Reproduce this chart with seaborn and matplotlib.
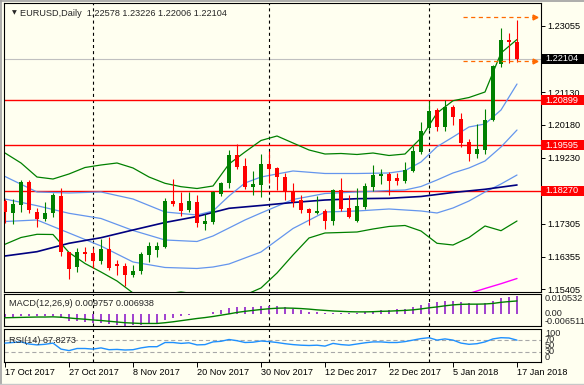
import numpy as np
import pandas as pd
import matplotlib
matplotlib.use("Agg")
import matplotlib.pyplot as plt
import seaborn as sns
from matplotlib.transforms import blended_transform_factory
from matplotlib.patches import Rectangle
from matplotlib.lines import Line2D

sns.set_style("white")
plt.rcParams['font.family'] = ['Liberation Sans', 'DejaVu Sans']
plt.rcParams['lines.scale_dashes'] = False

# ---------------- data ----------------
tick_pos = [0, 8, 16, 24, 32, 40, 48, 56, 64]
tick_labels = ["17 Oct 2017", "27 Oct 2017", "8 Nov 2017", "20 Nov 2017", "30 Nov 2017",
               "12 Dec 2017", "22 Dec 2017", "5 Jan 2018", "17 Jan 2018"]
separators = [11, 33, 53]

opens = [1.17981, 1.17624, 1.17865, 1.18515, 1.17653, 1.17449, 1.17615, 1.18109, 1.16482, 1.16047,
         1.16482, 1.16453, 1.16221, 1.16578, 1.16143, 1.16076, 1.15823, 1.15930, 1.16413, 1.16558,
         1.16636, 1.17972, 1.17914, 1.17702, 1.17943, 1.17313, 1.17371, 1.18176, 1.18486, 1.19300,
         1.18989, 1.18388, 1.18437, 1.19047, 1.18922, 1.18669, 1.18277, 1.17987, 1.17740, 1.17615,
         1.17682, 1.17400, 1.18283, 1.17769, 1.17391, 1.17789, 1.18388, 1.18690, 1.18765, 1.18632,
         1.18553, 1.18844, 1.19404, 1.20093, 1.20624, 1.20130, 1.20702, 1.20354, 1.19686, 1.19346,
         1.19454, 1.20316, 1.21943, 1.22648, 1.22578]
highs = [1.18030, 1.18039, 1.18574, 1.18574, 1.17769, 1.17943, 1.18205, 1.18359, 1.16500, 1.16598,
         1.16636, 1.16598, 1.16877, 1.16918, 1.16259, 1.16180, 1.16113, 1.16482, 1.16773, 1.16773,
         1.18059, 1.18611, 1.18225, 1.18234, 1.18138, 1.17586, 1.18263, 1.18524, 1.19454, 1.19619,
         1.19221, 1.18835, 1.19337, 1.19433, 1.18960, 1.18786, 1.18495, 1.18147, 1.17769, 1.18118,
         1.17740, 1.18330, 1.18640, 1.18147, 1.18341, 1.18504, 1.19027, 1.18902, 1.18815, 1.18794,
         1.19105, 1.19578, 1.20276, 1.20885, 1.20682, 1.20914, 1.20761, 1.20528, 1.19782, 1.20217,
         1.20653, 1.21914, 1.22997, 1.22852, 1.23226]
lows = [1.17342, 1.17304, 1.17653, 1.17615, 1.17226, 1.17400, 1.17508, 1.16375, 1.15716, 1.15919,
        1.16238, 1.16035, 1.16134, 1.15968, 1.15814, 1.15512, 1.15774, 1.15852, 1.16201, 1.16346,
        1.16598, 1.17836, 1.17545, 1.17644, 1.17217, 1.17121, 1.17313, 1.18118, 1.18359, 1.18910,
        1.18312, 1.18155, 1.18074, 1.18504, 1.18292, 1.18001, 1.17789, 1.17624, 1.17275, 1.17580,
        1.17159, 1.17275, 1.17682, 1.17470, 1.17362, 1.17740, 1.18271, 1.18466, 1.18147, 1.18437,
        1.18504, 1.18823, 1.19337, 1.20026, 1.20014, 1.20014, 1.20188, 1.19549, 1.19143, 1.19221,
        1.19337, 1.20296, 1.21873, 1.21972, 1.22006]
closes = [1.17653, 1.17885, 1.18533, 1.17711, 1.17449, 1.17615, 1.18147, 1.16500, 1.15989, 1.16482,
          1.16433, 1.16221, 1.16578, 1.16035, 1.16076, 1.15832, 1.15930, 1.16433, 1.16665, 1.16665,
          1.17972, 1.17894, 1.17696, 1.17972, 1.17325, 1.17391, 1.18234, 1.18486, 1.19300, 1.18960,
          1.18379, 1.18466, 1.19047, 1.18902, 1.18655, 1.18242, 1.17943, 1.17711, 1.17632, 1.17682,
          1.17400, 1.18283, 1.17740, 1.17516, 1.17827, 1.18408, 1.18727, 1.18756, 1.18553, 1.18553,
          1.18873, 1.19424, 1.20005, 1.20586, 1.20130, 1.20702, 1.20421, 1.19648, 1.19346, 1.19483,
          1.20325, 1.21893, 1.22648, 1.22599, 1.22104]

bb_idx = [0, 2, 4, 6, 8, 10, 12, 14, 16, 18, 20, 22, 24, 26, 28, 30, 32, 34, 36, 38, 40, 42, 44, 46,
          48, 50, 52, 54, 56, 58, 60, 62, 64]
bb_upper2 = [1.19366, 1.19076, 1.18669, 1.18611, 1.18757, 1.18945, 1.19018, 1.19076, 1.18931, 1.18669,
             1.18486, 1.18388, 1.18335, 1.18408, 1.19047, 1.19396, 1.19730, 1.19860, 1.19657, 1.19454,
             1.19337, 1.19352, 1.19323, 1.19366, 1.19294, 1.19337, 1.19802, 1.20528, 1.20885, 1.20978,
             1.21138, 1.22271, 1.22663]
bb_lower2 = [1.16715, 1.16912, 1.17005, 1.16999, 1.16477, 1.16157, 1.15910, 1.15649, 1.15300, 1.15242,
             1.15271, 1.15329, 1.15271, 1.15213, 1.15184, 1.15242, 1.15446, 1.15881, 1.16404, 1.16898,
             1.17043, 1.17057, 1.17072, 1.17159, 1.17232, 1.17261, 1.17101, 1.16744, 1.16694, 1.16912,
             1.17246, 1.17110, 1.17391]

b1_idx = [0, 4, 8, 12, 16, 20, 24, 26, 28, 30, 32, 36, 40, 44, 48, 50, 52, 54, 56, 58, 60, 62, 64]
bb_upper1 = [1.18684, 1.18234, 1.18205, 1.18234, 1.18030, 1.17653, 1.17566, 1.17682, 1.18118, 1.18495,
             1.18669, 1.18844, 1.18771, 1.18771, 1.18786, 1.18852, 1.19105, 1.19549, 1.19831, 1.20122,
             1.20209, 1.20615, 1.21370]
bb_mid = [1.18030, 1.17836, 1.17615, 1.17464, 1.17116, 1.16840, 1.16796, 1.16956, 1.17188, 1.17421,
          1.17624, 1.18016, 1.18190, 1.18234, 1.18277, 1.18292, 1.18393, 1.18582, 1.18786, 1.18931,
          1.19134, 1.19541, 1.20034]
bb_lower1 = [1.17377, 1.17421, 1.17043, 1.16665, 1.16201, 1.16041, 1.16012, 1.16055, 1.16143, 1.16317,
             1.16491, 1.17174, 1.17653, 1.17682, 1.17740, 1.17711, 1.17682, 1.17624, 1.17769, 1.17972,
             1.18234, 1.18466, 1.18727]

ma_idx = [0, 4, 8, 12, 16, 20, 24, 28, 32, 36, 40, 44, 48, 52, 56, 60, 64]
ma_long = [1.16375, 1.16500, 1.16744, 1.16906, 1.17130, 1.17348, 1.17522, 1.17760, 1.17842, 1.17929,
           1.18001, 1.18039, 1.18051, 1.18103, 1.18219, 1.18312, 1.18437]

ma2_idx = [58, 60, 62, 64]
ma_long2 = [1.15286, 1.15431, 1.15570, 1.15721]

level_lines = [1.20899, 1.19595, 1.18270]
bid_price = 1.22104
hl_levels = [1.23302, 1.22039]

macd_main = [-0.0018, -0.0016, -0.0012, -0.0012, -0.0014, -0.0015, -0.0013, -0.0025, -0.0038, -0.0042,
             -0.0046, -0.0050, -0.0052, -0.0058, -0.0061, -0.0065, -0.0063, -0.0060, -0.0055, -0.0050,
             -0.0035, -0.0022, -0.0014, -0.0005, -0.0002, 0.0001, 0.0010, 0.0018, 0.0030, 0.0038,
             0.0038, 0.0037, 0.0042, 0.0043, 0.0040, 0.0034, 0.0027, 0.0018, 0.0012, 0.0008,
             0.0003, 0.0005, 0.0005, 0.0004, 0.0006, 0.0010, 0.0016, 0.0019, 0.0021, 0.0023,
             0.0027, 0.0035, 0.0046, 0.0058, 0.0062, 0.0068, 0.0068, 0.0063, 0.0056, 0.0052,
             0.0056, 0.0070, 0.0085, 0.0093, 0.009757]
macd_signal = [-0.0022, -0.0021, -0.0020, -0.0019, -0.0018, -0.0018, -0.0017, -0.0019, -0.0023, -0.0027,
               -0.0030, -0.0034, -0.0037, -0.0041, -0.0045, -0.0049, -0.0051, -0.0053, -0.0053, -0.0053,
               -0.0049, -0.0044, -0.0038, -0.0032, -0.0026, -0.0021, -0.0015, -0.0008, -0.0001, 0.0007,
               0.0013, 0.0018, 0.0023, 0.0027, 0.0030, 0.0031, 0.0030, 0.0028, 0.0025, 0.0021,
               0.0018, 0.0015, 0.0013, 0.0011, 0.0010, 0.0010, 0.0011, 0.0013, 0.0014, 0.0016,
               0.0018, 0.0021, 0.0026, 0.0032, 0.0037, 0.0043, 0.0048, 0.0051, 0.0052, 0.0052,
               0.0053, 0.0056, 0.0062, 0.0066, 0.006938]
rsi = [58, 60, 62, 55, 52, 54, 58, 38, 33, 40, 40, 38, 42, 36, 37, 35, 36, 42, 46, 46,
       60, 60, 57, 59, 52, 53, 62, 64, 70, 66, 60, 61, 65, 63, 60, 56, 53, 51, 50, 51,
       48, 57, 53, 51, 55, 59, 62, 62, 60, 60, 63, 68, 73, 76, 68, 72, 68, 58, 54, 56,
       62, 72, 76, 75, 67.8273]

price_ticks = [1.23055, 1.21130, 1.20180, 1.19230, 1.17305, 1.16355, 1.15405]

# ---------------- layout ----------------
W, H = 584, 385
BG = "#FFFFF0"
fig = plt.figure(figsize=(W / 100, H / 100), dpi=100, facecolor=BG)


def rect(l, t, r, b):
    return [l / W, 1 - b / H, (r - l) / W, (b - t) / H]


ax = fig.add_axes(rect(4, 3, 541, 292))
axm = fig.add_axes(rect(4, 294, 541, 326))
axr = fig.add_axes(rect(4, 329, 541, 362))

# window frame lines (left/top/bottom edges)
fig.add_artist(Line2D([0.5 / W, 0.5 / W], [0, 1], color="#A0A0A0", linewidth=1.2))
fig.add_artist(Line2D([0, 1], [1 - 0.5 / H, 1 - 0.5 / H], color="#A0A0A0", linewidth=1.2))
fig.add_artist(Line2D([0, 1], [1.5 / H, 1.5 / H], color="#C8C8C8", linewidth=1.0))

XMIN, XMAX = -0.125, 67.0
for a in (ax, axm, axr):
    a.set_facecolor(BG)
    a.set_xlim(XMIN, XMAX)
    for s in a.spines.values():
        s.set_color("black")
        s.set_linewidth(0.8)
    a.set_xticks([])

GREEN = "#008000"
RED = "#FF0000"
BLUE = "#6495ED"
FS = 6.6

# ---------------- main price panel ----------------
ax.set_ylim(1.15329, 1.23723)
idx = np.arange(len(opens))
df = pd.DataFrame({"i": idx, "o": opens, "h": highs, "l": lows, "c": closes})
up = df["c"] >= df["o"]
cols = np.where(up, GREEN, RED)
ax.vlines(df["i"], df["l"], df["h"], colors=cols, linewidth=0.8, zorder=3)
body_low = np.minimum(df["o"], df["c"])
body_h = np.maximum(np.abs(df["c"] - df["o"]), 0.0005)
ax.bar(df["i"], body_h, bottom=body_low, width=0.62, color=cols, linewidth=0, zorder=4)

for lv in level_lines:
    ax.axhline(lv, color=RED, linewidth=1.0, zorder=2)
ax.axhline(bid_price, color="#C0C0C0", linewidth=0.8, zorder=1)

sns.lineplot(x=bb_idx, y=bb_upper2, ax=ax, color=GREEN, linewidth=0.9, legend=False, zorder=2)
sns.lineplot(x=bb_idx, y=bb_lower2, ax=ax, color=GREEN, linewidth=0.9, legend=False, zorder=2)
sns.lineplot(x=b1_idx, y=bb_upper1, ax=ax, color=BLUE, linewidth=0.9, legend=False, zorder=2)
sns.lineplot(x=b1_idx, y=bb_mid, ax=ax, color=BLUE, linewidth=0.9, legend=False, zorder=2)
sns.lineplot(x=b1_idx, y=bb_lower1, ax=ax, color=BLUE, linewidth=0.9, legend=False, zorder=2)
sns.lineplot(x=ma_idx, y=ma_long, ax=ax, color="#000080", linewidth=1.2, legend=False, zorder=2)
sns.lineplot(x=ma2_idx, y=ma_long2, ax=ax, color="#FF00FF", linewidth=1.0, legend=False, zorder=2)

for lv in hl_levels:
    ax.hlines(lv, 57.25, 66.3, colors="#FF6A00", linestyles=(0, (3, 2.5)), linewidth=0.9, zorder=5)
    ax.plot([66.3], [lv], marker=">", color="#FF6A00", markersize=3.5, clip_on=False, zorder=5)

for a in (ax, axm, axr):
    for s in separators:
        a.axvline(s, color="black", linestyle=(0, (2.2, 2.2)), linewidth=0.8, zorder=1)

ax.yaxis.tick_right()
ax.set_yticks(price_ticks)
ax.set_yticklabels([f"{v:.5f}" for v in price_ticks])
ax.tick_params(axis="y", right=True, left=False, length=3, width=0.7, pad=1.5,
               labelsize=FS, colors="black")

trans = blended_transform_factory(ax.transAxes, ax.transData)
px = 0.00029044
bw = 43 / 537.0
for val, fc in [(bid_price, "black")] + [(lv, RED) for lv in level_lines]:
    ax.add_patch(Rectangle((1.0, val - 5 * px), bw, 10 * px, transform=trans,
                           facecolor=fc, edgecolor="none", clip_on=False, zorder=6))
    ax.text(1.0 + 4.5 / 537, val, f"{val:.5f}", transform=trans, ha="left", va="center",
            fontsize=FS, color="white", zorder=7, clip_on=False)

ax.text(0.0155, 0.965, "\u25BC", transform=ax.transAxes, fontsize=4.5, family="DejaVu Sans",
        ha="left", va="center")
ax.text(16 / 537, 0.965, "EURUSD,Daily  1.22578 1.23226 1.22006 1.22104", transform=ax.transAxes,
        fontsize=FS, ha="left", va="center")

# ---------------- MACD panel ----------------
axm.set_ylim(-0.00668, 0.01072)
axm.vlines(idx, 0, macd_main, colors="#9932CC", linewidth=1.3, zorder=2)
sns.lineplot(x=idx, y=macd_signal, ax=axm, color=GREEN, linewidth=1.0, legend=False, zorder=3)
axm.set_yticks([])
tm = blended_transform_factory(axm.transAxes, axm.transData)
axm.text(1.0 + 4 / 537, 0.0105, "0.010532", transform=tm, ha="left", va="top", fontsize=FS, clip_on=False)
axm.text(1.0 + 4 / 537, 0.0, "0.00", transform=tm, ha="left", va="center", fontsize=FS, clip_on=False)
axm.text(1.0 + 4 / 537, -0.0066, "-0.006511", transform=tm, ha="left", va="bottom", fontsize=FS, clip_on=False)
axm.text(5 / 537, 0.7, "MACD(12,26,9) 0.009757 0.006938", transform=axm.transAxes,
         ha="left", va="center", fontsize=FS)

# ---------------- RSI panel ----------------
axr.set_ylim(-5, 105)
for lv in (70, 30):
    axr.axhline(lv, color="#A8A8A8", linestyle=(0, (3, 2)), linewidth=0.8, zorder=1)
sns.lineplot(x=idx, y=rsi, ax=axr, color="#1E90FF", linewidth=1.0, legend=False, zorder=3)
axr.set_yticks([])
tr = blended_transform_factory(axr.transAxes, axr.transData)
axr.text(1.0 + 4 / 537, 104, "100", transform=tr, ha="left", va="top", fontsize=FS, clip_on=False)
axr.text(1.0 + 4 / 537, 70, "70", transform=tr, ha="left", va="center", fontsize=FS, clip_on=False)
axr.text(1.0 + 4 / 537, 50, "50", transform=tr, ha="left", va="center", fontsize=FS, clip_on=False)
axr.text(1.0 + 4 / 537, 30, "30", transform=tr, ha="left", va="center", fontsize=FS, clip_on=False)
axr.text(1.0 + 4 / 537, -4, "0", transform=tr, ha="left", va="bottom", fontsize=FS, clip_on=False)
axr.text(5 / 537, 0.65, "RSI(14) 67.8273", transform=axr.transAxes, ha="left", va="center", fontsize=FS)

axr.set_xticks(tick_pos)
axr.set_xticklabels(tick_labels, ha="left", fontsize=FS)
axr.tick_params(axis="x", bottom=True, length=3.5, width=0.7, pad=1.0, colors="black")

for a in (ax, axm, axr):
    a.set_xlabel("")
    a.set_ylabel("")

fig.savefig("out.png", dpi=100, facecolor=BG)
